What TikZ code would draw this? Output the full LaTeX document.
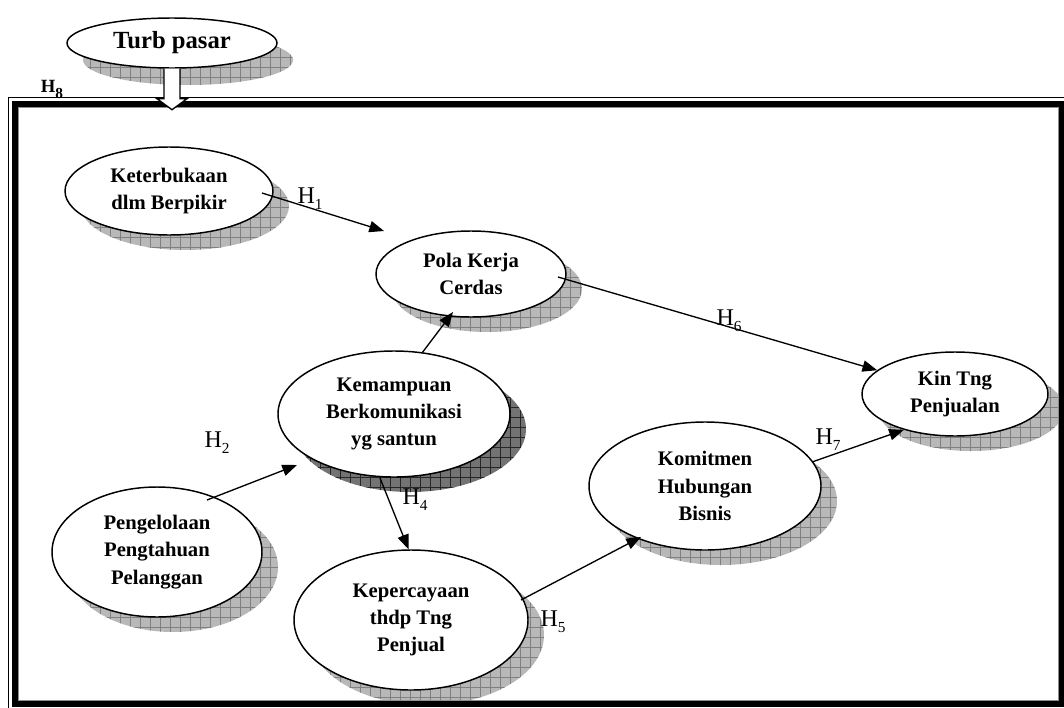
\documentclass[tikz,border=0pt]{standalone}
\usepackage{fontspec}
\setmainfont{Liberation Serif}
\usetikzlibrary{shapes.geometric,arrows.meta,patterns}
\pgfdeclarepatternformonly{shgrid}{\pgfqpoint{-1pt}{-1pt}}{\pgfqpoint{8.5pt}{8.5pt}}{\pgfqpoint{7.5pt}{7.5pt}}{%
  \pgfsetlinewidth{0.5pt}%
  \pgfpathmoveto{\pgfqpoint{0pt}{0pt}}\pgfpathlineto{\pgfqpoint{0pt}{7.6pt}}%
  \pgfpathmoveto{\pgfqpoint{0pt}{0pt}}\pgfpathlineto{\pgfqpoint{7.6pt}{0pt}}%
  \pgfusepath{stroke}}
\newcommand\Hsub[1]{H\raisebox{-4.5pt}{\fontsize{11.5}{12}\selectfont #1}}
\tikzset{
  bub/.style={ellipse, draw=black, line width=1.1pt, fill=white, inner sep=0pt, align=center,
    font=\fontsize{15.5}{20.5}\selectfont\bfseries},
  shadowlight/.style={fill=black!28, postaction={pattern=shgrid, pattern color=black!50}},
  shadowdark/.style={fill=black!55, postaction={pattern=shgrid, pattern color=black!85}},
  arr/.style={line width=1pt, -{Triangle[length=11pt,width=8.5pt]}},
  hlab/.style={font=\fontsize{18}{20}\selectfont, inner sep=0pt},
  blockarrow/.style={draw=black, line width=1pt, fill=white},
}
\begin{document}
\begin{tikzpicture}[x=0.75pt, y=-0.75pt]
\useasboundingbox (0,0) rectangle (1064,707);
\clip (0,0) rectangle (1064,707);

% shadows and bubbles
\path[shadowlight] (169+16,191+15) ellipse [x radius=104, y radius=44];
\node[bub, minimum width=156pt, minimum height=66pt] (kb) at (169,191) {Keterbukaan\\dlm Berpikir};

\path[shadowlight] (471+16,274+15) ellipse [x radius=95, y radius=43];
\node[bub, minimum width=142.5pt, minimum height=64.5pt] (pola) at (471,274) {Pola Kerja\\Cerdas};

\path[shadowlight] (955+16,394+15) ellipse [x radius=93, y radius=42];
\node[bub, minimum width=139.5pt, minimum height=63pt] (kin) at (955,394) {Kin Tng\\Penjualan};

\path[shadowdark] (394+16,414+15) ellipse [x radius=116, y radius=63];
\node[bub, minimum width=174pt, minimum height=94.5pt] (kem) at (394,414) {Kemampuan\\Berkomunikasi\\yg santun};

\path[shadowlight] (157+16,552+15) ellipse [x radius=105, y radius=65];
\node[bub, minimum width=157.5pt, minimum height=97.5pt] (peng) at (157,552) {Pengelolaan\\Pengtahuan\\Pelanggan};

\path[shadowlight] (411+16,620+15) ellipse [x radius=117, y radius=70];
\node[bub, minimum width=175.5pt, minimum height=105pt] (kep) at (411,620) {Kepercayaan\\thdp Tng\\Penjual};

\path[shadowlight] (705+16,486+15) ellipse [x radius=116, y radius=64];
\node[bub, minimum width=174pt, minimum height=96pt] (kom) at (705,486) {Komitmen\\Hubungan\\Bisnis};

% connectors
\draw[arr] ([shift={(93,2)}]kb.center) -- ([shift={(-87,-43)}]pola.center);
\draw[arr] ([shift={(28,-61)}]kem.center) -- ([shift={(-18,38)}]pola.center);
\draw[arr] ([shift={(87,3)}]pola.center) -- (kin.163);
\draw[arr] ([shift={(50,-52)}]peng.center) -- ([shift={(-97,51)}]kem.center);
\draw[arr] ([shift={(-14,64)}]kem.center) -- (kep.92);
\draw[arr] ([shift={(110,-20)}]kep.center) -- ([shift={(-64,51)}]kom.center);
\draw[arr] ([shift={(107,-24)}]kom.center) -- (kin.215);

% labels
\node[hlab] (h1) at (310,199) {\Hsub{1}};
\node[hlab] (h2) at (217,443) {\Hsub{2}};
\node[hlab] (h4) at (415,500) {\Hsub{4}};
\node[hlab] (h5) at (553,622) {\Hsub{5}};
\node[hlab] (h6) at (729,321) {\Hsub{6}};
\node[hlab] (h7) at (828,440) {\Hsub{7}};

% frame
\draw[line width=0.75pt] (8,97) rectangle (1075,718);
\draw[line width=4.5pt] (15,104) rectangle (1062,704);
\draw[black!45, line width=0.75pt] (18.8,107.8) rectangle (1058.2,700.2);

% top construct
\path[shadowlight] (172+16,43+17) ellipse [x radius=105, y radius=25];
\node[bub, font=\fontsize{18.5}{20}\selectfont\bfseries, minimum width=157.5pt, minimum height=37.5pt] (tp) at (172,43) {Turb pasar};
\draw[blockarrow] ([xshift=-6pt]tp.south) -- ++(0,30) -- ++(-7,0) -- ++(15,11) -- ++(15,-11) -- ++(-7,0) -- ++(0,-30);
\node[font=\fontsize{14}{16}\selectfont\bfseries, inner sep=0pt] (h8) at (52,89) {\Hsub{8}};
\end{tikzpicture}
\end{document}
